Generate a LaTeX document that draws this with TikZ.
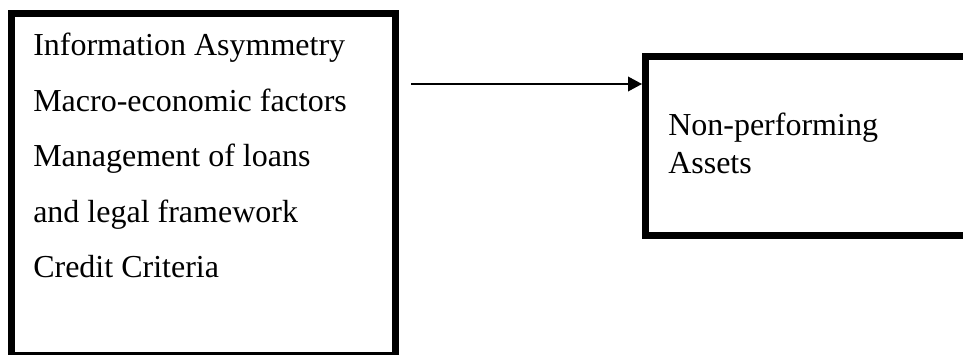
\documentclass[tikz,border=0pt]{standalone}
\usepackage{fontspec}
\setmainfont{Liberation Serif}
\usetikzlibrary{arrows.meta}
\begin{document}
\begin{tikzpicture}[x=0.75pt,y=-0.75pt,
  boxstyle/.style={draw=black, line width=5.25pt, inner sep=0pt, fill=none},
  txt/.style={anchor=base west, inner sep=0pt, font=\rmfamily\fontsize{24pt}{28pt}\selectfont},
  arrowline/.style={line width=1.1pt, -{Triangle[length=10.5pt,width=11pt]}}]
\useasboundingbox (0,0) rectangle (963,354);
\clip (0,0) rectangle (963,354);
\node[boxstyle, minimum width=288pt, minimum height=256.5pt] (lbox) at (203.5,184.5) {};
\node[boxstyle, minimum width=273.375pt, minimum height=134.25pt] (rbox) at (827.75,146) {};
\node[txt] (t1) at (33,55) {Information Asymmetry};
\node[txt] (t2) at (33,111) {Macro-economic factors};
\node[txt] (t3) at (33,166) {Management of loans};
\node[txt] (t4) at (33,222) {and legal framework};
\node[txt] (t5) at (33,277) {Credit Criteria};
\node[txt] (r1) at (668,135) {Non-performing};
\node[txt] (r2) at (668,173) {Assets};
\coordinate (arrstart) at (411,84);
\draw[arrowline] (arrstart) -- (arrstart -| rbox.west);
\end{tikzpicture}
\end{document}
